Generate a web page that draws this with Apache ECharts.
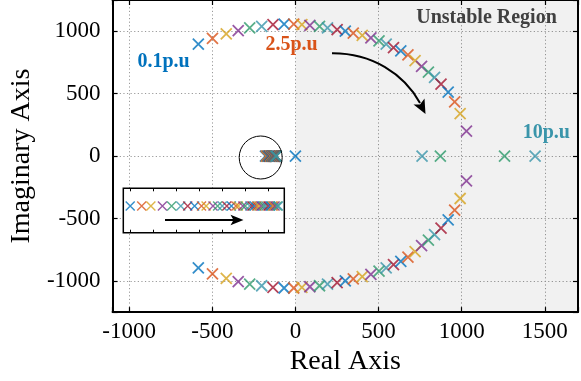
<!DOCTYPE html>
<html><head><meta charset="utf-8">
<script src="https://cdn.jsdelivr.net/npm/echarts@6/dist/echarts.min.js"></script>
<style>html,body{margin:0;padding:0;background:#fff}#c{width:581px;height:381px}</style>
</head><body><div id="c"></div>
<script>
// Operating points (p.u.), one per colour-cycled marker
const loadPU = [0.1,0.4,0.7,1.0,1.3,1.6,1.9,2.2,2.5,2.8,3.1,3.4,3.7,4.0,4.3,4.6,4.9,5.2,5.5,5.8,6.1,6.4,6.7,7.0,7.3,7.6,7.9,8.2,8.5,8.8,9.1,9.4,9.7,10.0];
// Complex-pair poles (points 1..32)
const arcRe = [-584,-499,-416,-344,-275,-203,-135,-68,-10,39,87,145,193,251,300,348,402,454,503,546,590,634,677,720,759,800,837,876,919,958,991,1029];
const arcImUpper = [896,943,979,1005,1026,1039,1052,1057,1057,1052,1047,1039,1026,1013,1000,984,966,947,922,896,869,843,810,765,718,673,630,577,512,434,340,199];
const arcImLower = [-896,-943,-979,-1005,-1026,-1039,-1052,-1057,-1057,-1052,-1047,-1039,-1026,-1013,-1000,-984,-966,-947,-922,-896,-869,-843,-810,-765,-718,-673,-630,-577,-512,-434,-340,-199];
// Pair splits into two real poles for points 33, 34
const splitNear = [872, 762];
const splitFar = [1258, 1442];
// Real pole near -150 (circled cluster, shown enlarged in the inset)
const clusterRe = [-180,-175,-171,-166,-162,-158,-155,-152,-149,-147,-144,-142,-140,-138,-136,-134,-133,-131,-130,-128,-127,-126,-125,-124,-123,-122,-121,-120,-119,-118,-117.5,-117,-116,-115.5];
// Extra real pole of the 0.1 p.u. case
const originPole = [0];
const palette = ['#0072BD','#D95319','#D6A21E','#7E2F8E','#2E9A6C','#3A95AA','#A2142F'];
const xTicks = [-1000,-500,0,500,1000,1500];
const yTicks = [-1000,-500,0,500,1000];

const FONT = 'Liberation Serif';
const cross = 'path://M0,0L10,10M10,0L0,10';

const series = [];
const n = loadPU.length;
for (let i = 0; i < n; i++) {
  const c = palette[i % 7];
  const d = [];
  if (i < arcRe.length) { d.push([arcRe[i], arcImUpper[i]]); d.push([arcRe[i], arcImLower[i]]); }
  else { const k = i - arcRe.length; d.push([splitNear[k], 0]); d.push([splitFar[k], 0]); }
  d.push([clusterRe[i], 0]);
  if (i === 0) d.push([originPole[0], 0]);
  series.push({
    type: 'scatter', xAxisIndex: 0, yAxisIndex: 0, data: d, symbol: cross, symbolSize: 11,
    itemStyle: { color: 'transparent', borderColor: c, borderWidth: 1.8 }, z: 3, animation: false,
    emphasis: { disabled: true }
  });
}
for (let i = 0; i < n; i++) {
  series.push({
    type: 'scatter', xAxisIndex: 2, yAxisIndex: 2, data: [[clusterRe[i], 0]], symbol: cross, symbolSize: 9,
    itemStyle: { color: 'transparent', borderColor: palette[i % 7], borderWidth: 1.4 }, z: 12, animation: false
  });
}
// shaded unstable region
series.push({
  type: 'scatter', xAxisIndex: 0, yAxisIndex: 0, data: [], z: 1, silent: true,
  markArea: { silent: true, itemStyle: { color: 'rgba(0,0,0,0.055)' }, data: [[{ xAxis: 0 }, { xAxis: 1700 }]] }
});

const lab = v => (xTicks.includes(v) || yTicks.includes(v)) ? String(v) : '';
const axisLineMain = { show: true, onZero: false, lineStyle: { color: '#000', width: 2 } };
const tickMain = { show: true, inside: true, length: 5, lineStyle: { color: '#000', width: 1.2 } };
const gridLine = { show: true, lineStyle: { type: [1.2, 2.4], color: '#9a9a9a', width: 1 } };

const option = {
  animation: false,
  grid: [
    { left: 100.5, top: -2, width: 482.4, height: 319.3 },
    { left: 123.3, top: 188.3, width: 161, height: 44.4 }
  ],
  xAxis: [
    { gridIndex: 0, type: 'value', min: -1100, max: 1700, minInterval: 500, maxInterval: 500, position: 'bottom',
      axisLine: axisLineMain, axisTick: tickMain,
      axisLabel: { color: '#000', fontFamily: FONT, fontSize: 23, margin: 8, formatter: lab },
      splitLine: gridLine,
      name: 'Real Axis', nameLocation: 'middle', nameGap: 29,
      nameTextStyle: { fontFamily: FONT, fontSize: 28, color: '#000' } },
    { gridIndex: 0, type: 'value', min: -1100, max: 1700, minInterval: 500, maxInterval: 500, position: 'top',
      axisLine: axisLineMain, axisTick: tickMain, axisLabel: { show: false }, splitLine: { show: false } },
    { gridIndex: 1, type: 'value', min: -183, max: -113, minInterval: 10, maxInterval: 10, position: 'bottom', z: 11,
      axisLine: { show: false, onZero: false }, axisTick: { show: true, inside: true, length: 3, lineStyle: { color: '#000', width: 1 } },
      axisLabel: { show: false }, splitLine: { show: false } },
    { gridIndex: 1, type: 'value', min: -183, max: -113, minInterval: 10, maxInterval: 10, position: 'top', z: 11,
      axisLine: { show: false, onZero: false }, axisTick: { show: true, inside: true, length: 3, lineStyle: { color: '#000', width: 1 } },
      axisLabel: { show: false }, splitLine: { show: false } }
  ],
  yAxis: [
    { gridIndex: 0, type: 'value', min: -1250, max: 1250, minInterval: 500, maxInterval: 500, position: 'left',
      axisLine: axisLineMain, axisTick: tickMain,
      axisLabel: { color: '#000', fontFamily: FONT, fontSize: 23, margin: 12, formatter: lab },
      splitLine: gridLine,
      name: 'Imaginary Axis', nameLocation: 'middle', nameGap: 67,
      nameTextStyle: { fontFamily: FONT, fontSize: 28, color: '#000' } },
    { gridIndex: 0, type: 'value', min: -1250, max: 1250, minInterval: 500, maxInterval: 500, position: 'right',
      axisLine: axisLineMain, axisTick: tickMain, axisLabel: { show: false }, splitLine: { show: false } },
    { gridIndex: 1, type: 'value', min: -1.5, max: 1, show: false }
  ],
  series: series,
  graphic: [
    { type: 'rect', z: 5, shape: { x: 123.3, y: 188.3, width: 161, height: 44.4 },
      style: { fill: '#fff', stroke: '#000', lineWidth: 1.5 } },
    { type: 'line', z: 13, shape: { x1: 165, y1: 220, x2: 234, y2: 220 }, style: { stroke: '#000', lineWidth: 2 } },
    { type: 'polygon', z: 13, shape: { points: [[243.5, 220], [230.5, 214.8], [233.5, 220], [230.5, 225.2]] }, style: { fill: '#000' } },
    { type: 'circle', z: 6, shape: { cx: 260.7, cy: 157.5, r: 21.5 }, style: { fill: 'none', stroke: '#000', lineWidth: 1 } },
    { type: 'bezierCurve', z: 6, shape: { x1: 332, y1: 53.3, cpx1: 372, cpy1: 53, cpx2: 404, cpy2: 74, x2: 420, y2: 103 },
      style: { stroke: '#000', lineWidth: 2, fill: 'none' } },
    { type: 'polygon', z: 6, shape: { points: [[425.5, 114], [413.5, 104.5], [420, 104.5], [424.5, 98.5]] }, style: { fill: '#000' } },
    { type: 'text', z: 6, style: { x: 486.5, y: 18, text: 'Unstable Region', fill: '#404040', font: 'bold 20px "Liberation Serif"', align: 'center', verticalAlign: 'middle' } },
    { type: 'text', z: 6, style: { x: 163.5, y: 61.5, text: '0.1p.u', fill: palette[0], font: 'bold 20px "Liberation Serif"', align: 'center', verticalAlign: 'middle' } },
    { type: 'text', z: 6, style: { x: 291.5, y: 45, text: '2.5p.u', fill: palette[1], font: 'bold 20px "Liberation Serif"', align: 'center', verticalAlign: 'middle' } },
    { type: 'text', z: 6, style: { x: 546.3, y: 133, text: '10p.u', fill: palette[5], font: 'bold 20px "Liberation Serif"', align: 'center', verticalAlign: 'middle' } }
  ]
};
const chart = echarts.init(document.getElementById('c'), null, { renderer: 'canvas' });
chart.setOption(option);
</script>
</body></html>
